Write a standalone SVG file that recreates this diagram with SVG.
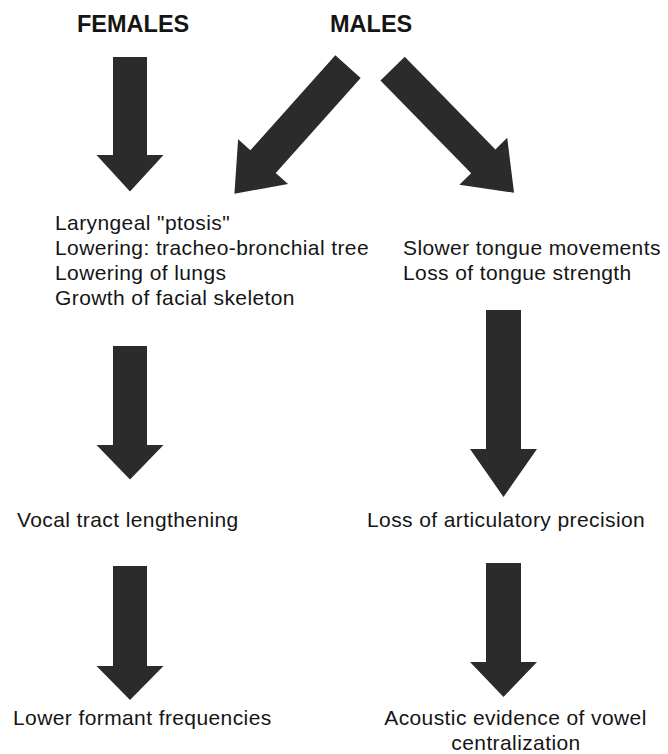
<svg xmlns="http://www.w3.org/2000/svg" width="668" height="754" viewBox="0 0 668 754">
<style>
.h{font-family:"Liberation Sans",Arial,sans-serif;font-weight:bold;font-size:23.5px;fill:#151515}
.t{font-family:"Liberation Sans",Arial,sans-serif;font-size:21px;letter-spacing:0.4px;fill:#151515}
.a{fill:#2b2b2b}
</style>
<rect width="668" height="754" fill="#ffffff"/>
<g id="females"><text class="h" x="77" y="32">FEMALES</text></g>
<g id="males"><text class="h" x="330" y="32">MALES</text></g>
<g id="female-changes">
<text class="t" x="55" y="230">Laryngeal "ptosis"</text>
<text class="t" x="55" y="255">Lowering: tracheo-bronchial tree</text>
<text class="t" x="55" y="280">Lowering of lungs</text>
<text class="t" x="55" y="305">Growth of facial skeleton</text>
</g>
<g id="male-changes">
<text class="t" x="403" y="255">Slower tongue movements</text>
<text class="t" x="403" y="280">Loss of tongue strength</text>
</g>
<g id="vocal-tract"><text class="t" x="17" y="527">Vocal tract lengthening</text></g>
<g id="articulatory"><text class="t" x="367" y="527">Loss of articulatory precision</text></g>
<g id="formant"><text class="t" x="13" y="725">Lower formant frequencies</text></g>
<g id="centralization">
<text class="t" x="515.5" y="725" text-anchor="middle">Acoustic evidence of vowel</text>
<text class="t" x="516" y="750" text-anchor="middle">centralization</text>
</g>
<g id="connectors">
<polygon class="a" points="113,57 147,57 147,155 163.5,155 130,191.5 96.5,155 113,155"/>
<polygon class="a" transform="translate(348,66.7) rotate(41.8)" points="-17,0 17,0 17,127.4 33.5,127.4 0,170.4 -33.5,127.4 -17,127.4"/>
<polygon class="a" transform="translate(392.6,68.7) rotate(-44.4)" points="-17,0 17,0 17,129.6 33.5,129.6 0,173.6 -33.5,129.6 -17,129.6"/>
<polygon class="a" points="113,346 147,346 147,445 163.5,445 130,479.5 96.5,445 113,445"/>
<polygon class="a" points="486,310 521,310 521,449 537,449 503.5,497 470,449 486,449"/>
<polygon class="a" points="113,566 147,566 147,666 163.5,666 130,700 96.5,666 113,666"/>
<polygon class="a" points="486,563 521,563 521,662 537,662 503.5,697 470,662 486,662"/>
</g>
</svg>
